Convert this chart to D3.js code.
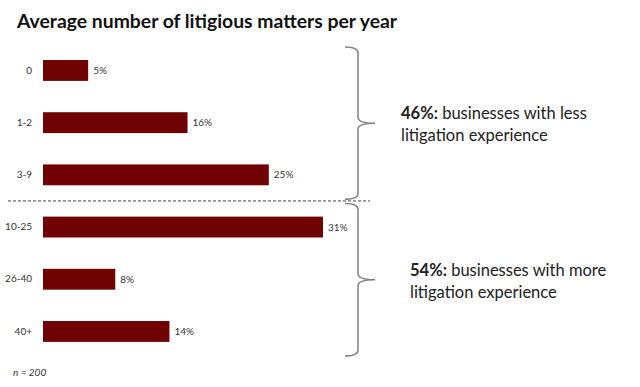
<!DOCTYPE html>
<html>
<head>
<meta charset="utf-8">
<script src="https://cdn.jsdelivr.net/npm/d3@7"></script>
<style>
  body { margin: 0; background: #fff; }
  svg { display: block; font-family: Lato, "Open Sans", sans-serif; }
</style>
</head>
<body>
<div id="container"></div>
<script>
// Chart data
const categories = ['0', '1-2', '3-9', '10-25', '26-40', '40+'];
const values = [5, 16, 25, 31, 8, 14];
const groupLabels = ['46%:', '54%:'];
const groupTexts = [['businesses with less', 'litigation experience'], ['businesses with more', 'litigation experience']];
const groupMembers = [['0', '1-2', '3-9'], ['10-25', '26-40', '40+']];

const width = 640;
const height = 387;

const svg = d3.select('#container').append('svg')
    .attr('width', width)
    .attr('height', height);

//Title
svg.append('text')
    .attr('x', 17)
    .attr('y', 28)
    .attr('font-size', 19)
    .attr('font-weight', 'bold')
    .attr('fill', '#111')
    .attr('textLength', 380)
    .attr('lengthAdjust', 'spacingAndGlyphs')
    .text('Average number of litigious matters per year');

//Scales
const xScale = d3.scaleLinear()
    .domain([0, 31])
    .range([43, 323]);

const yScale = d3.scaleBand()
    .domain(categories)
    .range([28.7, 373.2])
    .paddingInner(0.6)
    .paddingOuter(0.6);

//Bars
svg.selectAll('rect.bar')
    .data(values)
    .enter()
    .append('rect')
    .attr('class', 'bar')
    .attr('x', xScale(0))
    .attr('y', (d, i) => yScale(categories[i]))
    .attr('width', d => xScale(d) - xScale(0))
    .attr('height', yScale.bandwidth())
    .attr('fill', '#700303');

//Value labels
svg.selectAll('text.val')
    .data(values)
    .enter()
    .append('text')
    .attr('class', 'val')
    .attr('x', d => xScale(d) + 5)
    .attr('y', (d, i) => yScale(categories[i]) + yScale.bandwidth() / 2)
    .attr('dy', '0.35em')
    .attr('font-size', 10)
    .attr('fill', '#333')
    .text(d => d + '%');

//Category axis (no line, no ticks)
const yAxis = svg.append('g')
    .attr('transform', 'translate(32,0)')
    .call(d3.axisLeft(yScale).tickSize(0).tickPadding(0));
yAxis.select('.domain').remove();
yAxis.selectAll('text')
    .attr('font-size', 10)
    .attr('font-family', 'Lato, "Open Sans", sans-serif')
    .attr('fill', '#333');

//Dashed separator between groups
const sepY = (yScale(categories[2]) + yScale.bandwidth() + yScale(categories[3])) / 2;
svg.append('line')
    .attr('x1', 8)
    .attr('x2', 370)
    .attr('y1', sepY)
    .attr('y2', sepY)
    .attr('stroke', '#444')
    .attr('stroke-width', 1)
    .attr('stroke-dasharray', '3,2');

//Braces
function bracePath(x0, y0, y1, tip) {
    const xl = x0 + 13;
    const mid = (y0 + y1) / 2;
    return `M${x0},${y0} Q${xl},${y0} ${xl},${y0 + 6}` +
        ` L${xl},${mid - 6} Q${xl},${mid} ${tip},${mid}` +
        ` Q${xl},${mid} ${xl},${mid + 6}` +
        ` L${xl},${y1 - 6} Q${xl},${y1} ${x0},${y1}`;
}

const braceExtents = groupMembers.map(g => [
    yScale(g[0]) - 13,
    yScale(g[g.length - 1]) + yScale.bandwidth() + 14
]);

svg.selectAll('path.brace')
    .data(braceExtents)
    .enter()
    .append('path')
    .attr('class', 'brace')
    .attr('d', d => bracePath(345, d[0], d[1], 375))
    .attr('fill', 'none')
    .attr('stroke', '#808080')
    .attr('stroke-width', 1.5);

//Group annotations
const textX = [401, 410];
braceExtents.forEach((d, i) => {
    const mid = (d[0] + d[1]) / 2;
    const t = svg.append('text')
        .attr('x', textX[i])
        .attr('y', mid - 4)
        .attr('font-size', 16.5)
        .attr('fill', '#222');
    t.append('tspan')
        .attr('font-weight', 'bold')
        .text(groupLabels[i]);
    t.append('tspan')
        .text(' ' + groupTexts[i][0]);
    t.append('tspan')
        .attr('x', textX[i])
        .attr('dy', 22)
        .text(groupTexts[i][1]);
});

//Sample size note
svg.append('text')
    .attr('x', 13)
    .attr('y', 376)
    .attr('font-size', 10)
    .attr('font-style', 'italic')
    .attr('fill', '#333')
    .text('n = 200');
</script>
</body>
</html>
